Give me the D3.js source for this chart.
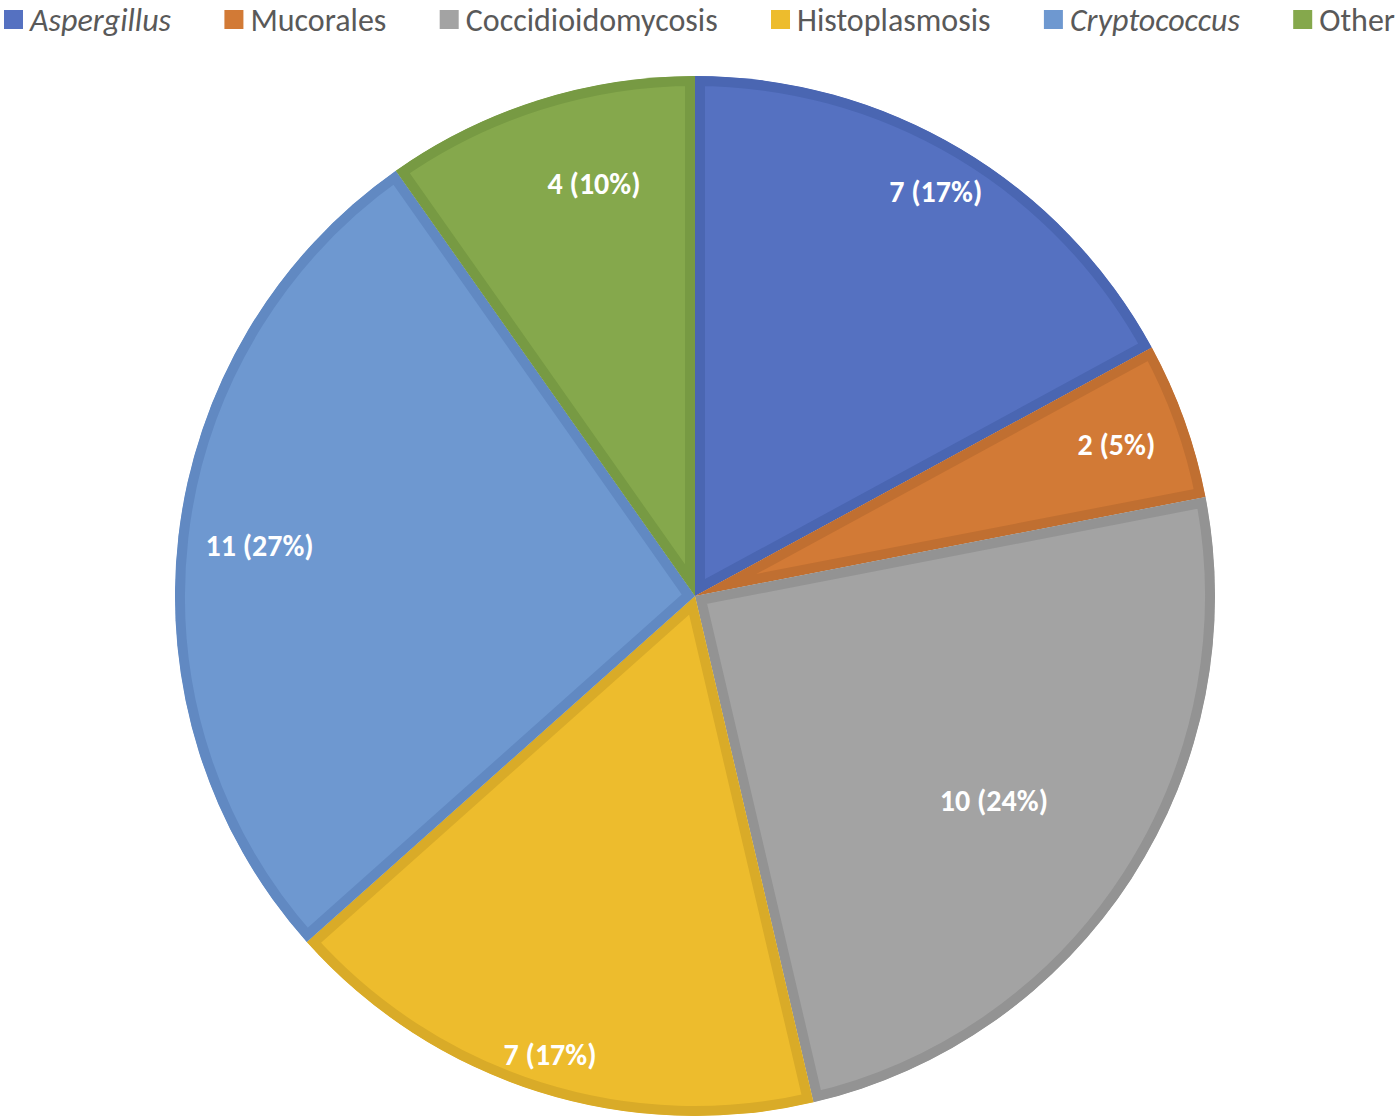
<!DOCTYPE html>
<html>
<head>
<meta charset="utf-8">
<script src="https://cdn.jsdelivr.net/npm/d3@7"></script>
<style>
  body { margin: 0; background: #fff; }
  svg { display: block; }
</style>
</head>
<body>
<div id="app"></div>
<script>
// data
const categories = ["Aspergillus", "Mucorales", "Coccidioidomycosis", "Histoplasmosis", "Cryptococcus", "Other"];
const counts     = [7, 2, 10, 7, 11, 4];
const italicName = [true, false, false, false, true, false];

// colours: fill and the darker inner border of each slice
const fills   = ["#5571c1", "#d27a36", "#a3a3a3", "#edbc2d", "#6e98d0", "#85a84c"];
const borders = ["#4a66b2", "#c06f31", "#939393", "#d9ab28", "#6189c2", "#779a43"];
// label placement (Excel "best fit" look): radius fraction and angle nudge in degrees
const labelR   = [0.906, 0.861, 0.696, 0.924, 0.843, 0.816];
const labelRot = [0, 0, 1.4, 0, 0, 3.8];

const W = 1400, H = 1120;
const cx = 695, cy = 596, R = 520;
const total = d3.sum(counts);
const font = "Carlito, Lato, 'Open Sans', sans-serif";

const svg = d3.select("#app").append("svg")
    .attr("width", W).attr("height", H);

const pie = d3.pie().sort(null).value(d => d.v);
const arcs = pie(categories.map((c, i) => ({ c: c, v: counts[i], i: i })));
const arc = d3.arc().innerRadius(0).outerRadius(R);

// each slice keeps its darker border on the inside
const defs = svg.append("defs");
defs.selectAll("clipPath").data(arcs).enter()
    .append("clipPath").attr("id", d => "clip" + d.data.i)
    .append("path").attr("d", arc);

const g = svg.append("g").attr("transform", "translate(" + cx + "," + cy + ")");

g.selectAll("path.slice").data(arcs).enter()
    .append("path")
    .attr("class", "slice")
    .attr("d", arc)
    .attr("fill", d => fills[d.data.i])
    .attr("stroke", d => borders[d.data.i])
    .attr("stroke-width", 20)
    .attr("stroke-linejoin", "miter")
    .attr("clip-path", d => "url(#clip" + d.data.i + ")");

// data labels
g.selectAll("text.lbl").data(arcs).enter()
    .append("text")
    .attr("class", "lbl")
    .attr("transform", d => {
        const r = R * labelR[d.data.i];
        const nudge = labelRot[d.data.i] * Math.PI / 180;
        const c = d3.arc().innerRadius(r).outerRadius(r)
            .centroid({ startAngle: d.startAngle + nudge, endAngle: d.endAngle + nudge });
        return "translate(" + c[0] + "," + c[1] + ")";
    })
    .attr("text-anchor", "middle")
    .attr("dy", "0.35em")
    .attr("fill", "#ffffff")
    .attr("font-family", font)
    .attr("font-weight", "bold")
    .attr("font-size", "30px")
    .text(d => d.data.v + " (" + Math.round(d.data.v / total * 100) + "%)");

// legend across the top
const swatch = 19, textX = 26;
const leg = svg.append("g").attr("class", "legend");
const items = leg.selectAll("g").data(categories).enter().append("g");
items.append("rect")
    .attr("width", swatch).attr("height", swatch)
    .attr("y", 10)
    .attr("fill", (d, i) => fills[i]);
items.append("text")
    .attr("x", textX)
    .attr("y", 31)
    .attr("fill", "#595959")
    .attr("font-family", font)
    .attr("font-size", "32px")
    .attr("font-style", (d, i) => italicName[i] ? "italic" : "normal")
    .text(d => d);

// spread items so the legend spans the full width
const widths = [];
items.select("text").each(function () { widths.push(textX + this.getComputedTextLength()); });
const left = 4, right = 1395;
const gap = (right - left - d3.sum(widths)) / (categories.length - 1);
let x = left;
items.attr("transform", (d, i) => {
    const t = "translate(" + x + ",0)";
    x += widths[i] + gap;
    return t;
});
</script>
</body>
</html>
